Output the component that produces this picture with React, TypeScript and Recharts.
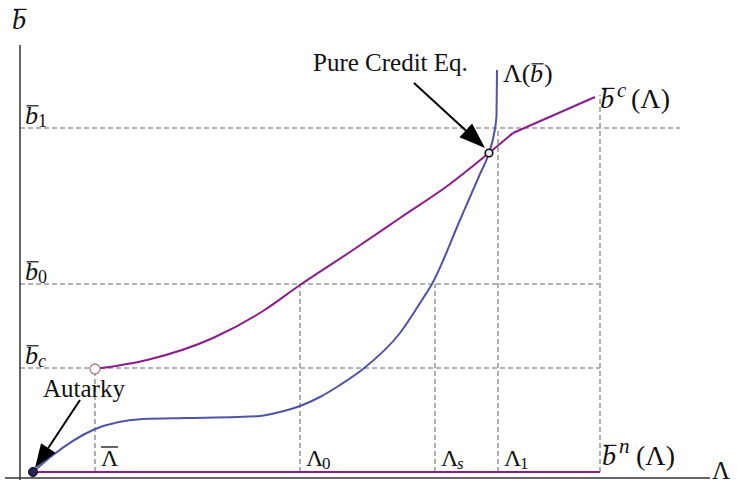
import { ComposedChart, Line, XAxis, YAxis, ReferenceLine, ReferenceDot } from "recharts"

// b levels (c, 0, 1) and Lambda thresholds, in plot units
const bSubs = ["c", "0", "1"]
const bLevels = [1.1, 1.94, 3.5]
const bLevelEnds = [5.8, 5.8, 6.6]

const lamSubs = ["bar", "0", "s", "1"]
const lamTicks = [0.75, 2.8, 4.15, 4.78]
const lamTops = [1.1, 1.94, 1.94, 3.5]
const lamMax = 5.8
const lamMaxTop = 3.83

const autarky = { x: 0.13, b: 0.06 }
const pureCredit = { x: 4.69, b: 3.25 }

// b^c(Lambda), starts at (Lambda bar, b_c); kink at b_1
const bcCurve = [
  { x: 0.75, b: 1.09 },
  { x: 1.27, b: 1.18 },
  { x: 1.93, b: 1.4 },
  { x: 2.43, b: 1.67 },
  { x: 2.8, b: 1.93 },
  { x: 3.3, b: 2.26 },
  { x: 3.8, b: 2.6 },
  { x: 4.3, b: 2.94 },
  { x: 4.69, b: 3.25 },
  { x: 4.93, b: 3.45 },
]
const bcUpper = [
  { x: 4.93, b: 3.45 },
  { x: 5.75, b: 3.81 },
]

// Lambda(b)
const lamCurve = [
  { x: 0.13, b: 0.06 },
  { x: 0.33, b: 0.23 },
  { x: 0.73, b: 0.48 },
  { x: 1.23, b: 0.59 },
  { x: 1.67, b: 0.6 },
  { x: 2.17, b: 0.61 },
  { x: 2.4, b: 0.62 },
  { x: 2.6, b: 0.66 },
  { x: 2.8, b: 0.72 },
  { x: 3.0, b: 0.81 },
  { x: 3.2, b: 0.93 },
  { x: 3.43, b: 1.09 },
  { x: 3.8, b: 1.45 },
  { x: 4.02, b: 1.78 },
  { x: 4.12, b: 1.94 },
  { x: 4.4, b: 2.58 },
  { x: 4.6, b: 3.04 },
  { x: 4.69, b: 3.25 },
  { x: 4.74, b: 3.44 },
  { x: 4.765, b: 3.62 },
  { x: 4.77, b: 4.08 },
]

// b^n(Lambda)
const bnCurve = [
  { x: 0.13, b: 0.06 },
  { x: 5.8, b: 0.06 },
]

const PURPLE = "#8b1c8c"
const BLUE = "#5252a8"
const DASH = "#9c9c9c"
const FONT = "'Liberation Serif', 'Times New Roman', serif"

function Arrow({ x1, y1, x2, y2, head }: { x1: number; y1: number; x2: number; y2: number; head: number }) {
  const a = Math.atan2(y2 - y1, x2 - x1)
  const w = head * 0.36
  const bx = x2 - head * Math.cos(a)
  const by = y2 - head * Math.sin(a)
  const p1 = `${bx + w * Math.sin(a)},${by - w * Math.cos(a)}`
  const p2 = `${bx - w * Math.sin(a)},${by + w * Math.cos(a)}`
  return (
    <g>
      <line x1={x1} y1={y1} x2={bx} y2={by} stroke="#000" strokeWidth={2} />
      <polygon points={`${x2},${y2} ${p1} ${p2}`} fill="#000" />
    </g>
  )
}

// italic b with a bar over it, baseline at (x, y)
function BBar({ x, y, size }: { x: number; y: number; size: number }) {
  return (
    <g>
      <text x={x} y={y} fontFamily={FONT} fontStyle="italic" fontSize={size} fill="#111">b</text>
      <line x1={x + size * 0.06} y1={y - size * 0.7} x2={x + size * 0.52} y2={y - size * 0.7} stroke="#111" strokeWidth={1.2} />
    </g>
  )
}

function at(key: string, x: number, y: number, draw: (cx: number, cy: number) => any) {
  return (
    <ReferenceDot
      key={key}
      x={x}
      y={y}
      r={0}
      ifOverflow="visible"
      shape={(p: any) => draw(p.cx, p.cy)}
    />
  )
}

export default function App() {
  const bcEnd = bcUpper[bcUpper.length - 1]
  const lamEnd = lamCurve[lamCurve.length - 1]
  return (
    <div style={{ position: "absolute", left: 0, top: 0, background: "#fff" }}>
      <ComposedChart width={737} height={486} margin={{ top: 45, right: 27, bottom: 8, left: 20 }}>
        <XAxis dataKey="x" type="number" domain={[0, 6.9]} allowDataOverflow hide />
        <YAxis dataKey="b" type="number" domain={[0, 4.33]} allowDataOverflow hide />

        {bLevels.map((v, i) => (
          <ReferenceLine
            key={"h" + i}
            segment={[{ x: 0, y: v }, { x: bLevelEnds[i], y: v }]}
            stroke={DASH}
            strokeWidth={1.6}
            strokeDasharray="5 3"
            ifOverflow="visible"
          />
        ))}
        {lamTicks.map((v, i) => (
          <ReferenceLine
            key={"v" + i}
            segment={[{ x: v, y: 0.06 }, { x: v, y: lamTops[i] }]}
            stroke={DASH}
            strokeWidth={1.6}
            strokeDasharray="5 3"
            ifOverflow="visible"
          />
        ))}
        <ReferenceLine
          segment={[{ x: lamMax, y: 0.06 }, { x: lamMax, y: lamMaxTop }]}
          stroke={DASH}
          strokeWidth={1.6}
          strokeDasharray="5 3"
          ifOverflow="visible"
        />

        {/* axes */}
        <ReferenceLine segment={[{ x: -0.15, y: 0 }, { x: 6.9, y: 0 }]} stroke="#333" strokeWidth={1.5} ifOverflow="visible" />
        <ReferenceLine segment={[{ x: 0, y: -0.02 }, { x: 0, y: 4.33 }]} stroke="#333" strokeWidth={1.5} ifOverflow="visible" />

        <Line data={bnCurve} dataKey="b" type="linear" stroke={PURPLE} strokeWidth={2.2} dot={false} isAnimationActive={false} />
        <Line data={lamCurve} dataKey="b" type="monotone" stroke={BLUE} strokeWidth={2} dot={false} isAnimationActive={false} />
        <Line data={bcCurve} dataKey="b" type="monotone" stroke={PURPLE} strokeWidth={2} dot={false} isAnimationActive={false} />
        <Line data={bcUpper} dataKey="b" type="linear" stroke={PURPLE} strokeWidth={2} dot={false} isAnimationActive={false} />

        <ReferenceDot x={bcCurve[0].x} y={bcCurve[0].b} r={5} fill="#fff" stroke="#a88088" strokeWidth={1.3} />
        <ReferenceDot x={autarky.x} y={autarky.b} r={4.5} fill="#26245a" stroke="#000" strokeWidth={1} />
        <ReferenceDot x={pureCredit.x} y={pureCredit.b} r={3.8} fill="#e8e8f0" stroke="#111" strokeWidth={1.6} />

        {/* y-axis labels */}
        {at("ytop", 0, 4.33, (cx, cy) => <BBar x={cx - 8} y={cy - 16} size={28} />)}
        {bLevels.map((v, i) =>
          at("bl" + i, 0, v, (cx, cy) => (
            <g>
              <BBar x={cx + 5} y={cy - 4} size={26} />
              <text
                x={cx + 18}
                y={cy - 1}
                fontFamily={FONT}
                fontSize={18}
                fontStyle={bSubs[i] === "c" ? "italic" : "normal"}
                fill="#111"
              >
                {bSubs[i]}
              </text>
            </g>
          ))
        )}

        {/* Lambda labels */}
        {lamTicks.map((v, i) =>
          at("ll" + i, v, 0, (cx, cy) => (
            <g>
              <text x={cx + 6} y={cy - 12} fontFamily={FONT} fontSize={24} fill="#111">Λ</text>
              {lamSubs[i] === "bar" ? (
                <line x1={cx + 6} y1={cy - 31} x2={cx + 23} y2={cy - 31} stroke="#111" strokeWidth={1.3} />
              ) : (
                <text
                  x={cx + 22}
                  y={cy - 9}
                  fontFamily={FONT}
                  fontSize={17}
                  fontStyle={lamSubs[i] === "s" ? "italic" : "normal"}
                  fill="#111"
                >
                  {lamSubs[i]}
                </text>
              )}
            </g>
          ))
        )}
        {at("xlab", 6.9, 0, (cx, cy) => (
          <text x={cx + 2} y={cy + 1} fontFamily={FONT} fontSize={25} fill="#111">Λ</text>
        ))}

        {/* curve names */}
        {at("bn", lamMax, 0.06, (cx, cy) => (
          <g>
            <BBar x={cx + 2} y={cy - 7} size={28} />
            <text x={cx + 19} y={cy - 19} fontFamily={FONT} fontStyle="italic" fontSize={21} fill="#111">n</text>
            <text x={cx + 36} y={cy - 7} fontFamily={FONT} fontSize={28} fill="#111">(Λ)</text>
          </g>
        ))}
        {at("bc", bcEnd.x, bcEnd.b, (cx, cy) => (
          <g>
            <BBar x={cx + 5} y={cy + 11} size={28} />
            <text x={cx + 22} y={cy} fontFamily={FONT} fontStyle="italic" fontSize={21} fill="#111">c</text>
            <text x={cx + 36} y={cy + 11} fontFamily={FONT} fontSize={28} fill="#111">(Λ)</text>
          </g>
        ))}
        {at("lb", lamEnd.x, lamEnd.b, (cx, cy) => (
          <g>
            <text x={cx + 6} y={cy + 12} fontFamily={FONT} fontSize={26} fill="#111">Λ(</text>
            <BBar x={cx + 33} y={cy + 12} size={26} />
            <text x={cx + 47} y={cy + 12} fontFamily={FONT} fontSize={26} fill="#111">)</text>
          </g>
        ))}

        {/* annotations */}
        {at("aut", autarky.x, autarky.b, (cx, cy) => (
          <g>
            <text x={cx + 10} y={cy - 75} fontFamily={FONT} fontSize={25} fill="#111">Autarky</text>
            <Arrow x1={cx + 47} y1={cy - 72} x2={cx + 2} y2={cy - 4} head={24} />
          </g>
        ))}
        {at("pc", pureCredit.x, pureCredit.b, (cx, cy) => (
          <g>
            <text x={cx - 176} y={cy - 82} fontFamily={FONT} fontSize={25} fill="#111">Pure Credit Eq.</text>
            <Arrow x1={cx - 75} y1={cy - 70} x2={cx - 4} y2={cy - 5} head={26} />
          </g>
        ))}
      </ComposedChart>
    </div>
  )
}
